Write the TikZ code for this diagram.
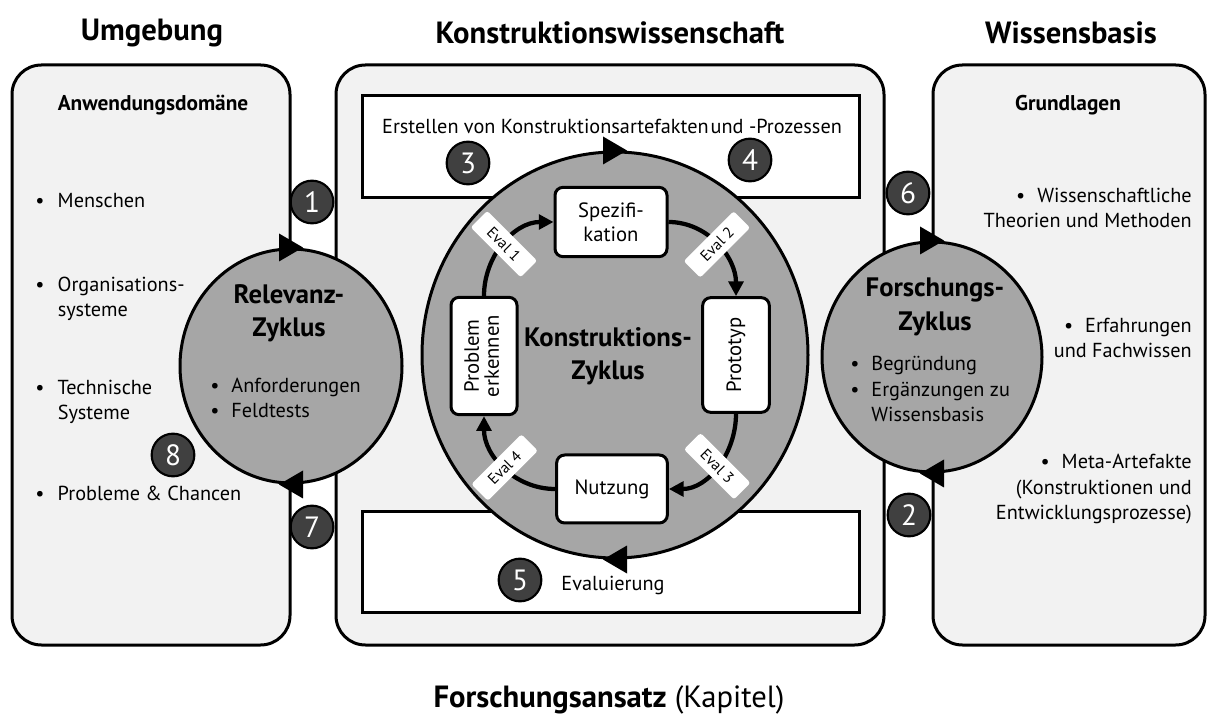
\documentclass[tikz,border=0pt]{standalone}
\usepackage{fontspec}
\usepackage{graphicx}
\setmainfont{PT Sans}
\usetikzlibrary{arrows.meta,shapes.geometric}

\definecolor{boxfill}{HTML}{F2F2F2}
\definecolor{cyclefill}{HTML}{A6A6A6}
\definecolor{numfill}{HTML}{404040}

% filled arrow tips sitting on the cycle outlines
\newcommand\cyctipR[1]{\fill (#1) ++(-12,14) -- ++(24,-14) -- ++(-24,-14) -- cycle;}
\newcommand\cyctipL[1]{\fill (#1) ++(12,14) -- ++(-24,-14) -- ++(24,-14) -- cycle;}

\begin{document}
\begin{tikzpicture}[x=0.75pt,y=0.75pt,
  panel/.style={draw, line width=2.25pt, fill=boxfill, rounded corners=22pt, inner sep=0pt},
  band/.style={draw, line width=2.25pt, fill=white, inner sep=0pt},
  cyclering/.style={ellipse, draw, line width=2.25pt, fill=cyclefill, inner sep=0pt},
  stagebox/.style={draw, line width=2.25pt, fill=white, rounded corners=6pt, inner sep=0pt, align=center, font=\fontsize{15.5}{18}\selectfont},
  numdot/.style={circle, draw, line width=1.6pt, fill=numfill, text=white, minimum size=32pt, inner sep=0pt, font=\fontsize{22}{22}\selectfont},
  evallab/.style={fill=white, rounded corners=2pt, inner sep=0pt, minimum width=53pt, minimum height=17.5pt, font=\fontsize{11.5}{12}\selectfont},
  flow/.style={line width=3.2pt, -{Triangle[length=11pt,width=11pt]}},
  heading/.style={font=\fontsize{23}{27}\selectfont\bfseries},
  subhead/.style={font=\fontsize{16}{19}\selectfont\bfseries},
  body/.style={font=\fontsize{15.2}{19}\selectfont, inner sep=0pt},
  cyctitle/.style={font=\fontsize{20}{25}\selectfont\bfseries, align=center, inner sep=0pt}
]
\useasboundingbox (0,0) rectangle (1208,-720);

% column titles
\node[heading] (tUmg) at (152,-33) {Umgebung};
\node[heading] (tKon) at (610,-33) {Konstruktionswissenschaft};
\node[heading] (tWis) at (1071,-33) {Wissensbasis};

% the three panels
\node[panel, minimum width=208.5pt, minimum height=435pt] (left) at (151,-355) {};
\node[panel, minimum width=411pt, minimum height=435pt] (mid) at (610,-355) {};
\node[panel, minimum width=204pt, minimum height=435pt] (right) at (1069,-355) {};

% bands inside the middle panel
\node[band, minimum width=372.75pt, minimum height=76.5pt] (topband) at (611,-147) {};
\node[band, minimum width=372.75pt, minimum height=75pt] (botband) at (611,-562) {};

% the three cycles
\node[cyclering, minimum width=166.5pt, minimum height=175.5pt] (rel) at (291,-366) {};
\node[cyclering, minimum width=165pt, minimum height=172.5pt] (fors) at (932,-357) {};
\node[cyclering, minimum width=289.5pt, minimum height=304.5pt] (kon) at (615,-355) {};

\cyctipR{rel.north}
\cyctipL{rel.south}
\cyctipR{fors.north}
\cyctipL{fors.south}
\cyctipR{kon.north}
\cyctipL{kon.south}

% band texts
\node[body] (erst) at (612,-126) {Erstellen von Konstruktionsartefakten\hspace{0.1em}und -Prozessen};
\node[body] (eval) at (613,-585) {Evaluierung};

% stages of the construction cycle
\node[stagebox, minimum width=84pt, minimum height=52pt] (spez) at (611,-222) {Spezifi-\\kation};
\node[stagebox, minimum width=50pt, minimum height=86pt] (proto) at (736,-355) {\rotatebox{90}{Prototyp}};
\node[stagebox, minimum width=83pt, minimum height=51pt] (nutz) at (612,-489) {Nutzung};
\node[stagebox, minimum width=49.5pt, minimum height=88pt] (prob) at (484,-356)
  {\rotatebox{90}{\begin{tabular}{@{}c@{}}Problem\\[-3pt]erkennen\end{tabular}}};

\draw[flow] (prob.north) to[out=90,in=180] node[evallab, rotate=-45] (e1) {Eval 1} (spez.west);
\draw[flow] (spez.east) to[out=0,in=90] node[evallab, rotate=45] (e2) {Eval 2} (proto.north);
\draw[flow] (proto.south) to[out=-90,in=0] node[evallab, rotate=-45] (e3) {Eval 3} (nutz.east);
\draw[flow] (nutz.west) to[out=180,in=-90] node[evallab, rotate=45] (e4) {Eval 4} (prob.south);

\node[cyctitle] (konT) at (608,-356) {Konstruktions-\\Zyklus};

% relevance cycle text
\node[cyctitle] (relT) at (289,-313) {Relevanz-\\Zyklus};
\node[body, anchor=west] (relB) at (210,-400)
  {\begin{tabular}{@{}l@{\hspace{9pt}}l@{}}\textbullet & Anforderungen\\ \textbullet & Feldtests\end{tabular}};

% rigor cycle text
\node[cyctitle] (forT) at (935,-307) {Forschungs-\\Zyklus};
\node[body, anchor=west] (forB) at (850,-391)
  {\begin{tabular}{@{}l@{\hspace{9pt}}l@{}}\textbullet & Begründung\\ \textbullet & Ergänzungen zu\\ & Wissensbasis\end{tabular}};

% environment panel
\node[subhead] (anw) at (153,-105) {Anwendungsdomäne};
\node[body, anchor=west] (l1) at (35,-202)
  {\begin{tabular}{@{}l@{\hspace{10pt}}l@{}}\textbullet & Menschen\end{tabular}};
\node[body, anchor=west] (l2) at (35,-299)
  {\begin{tabular}{@{}l@{\hspace{10pt}}l@{}}\textbullet & Organisations-\\ & systeme\end{tabular}};
\node[body, anchor=west] (l3) at (35,-402)
  {\begin{tabular}{@{}l@{\hspace{10pt}}l@{}}\textbullet & Technische\\ & Systeme\end{tabular}};
\node[body, anchor=west] (l4) at (35,-495)
  {\begin{tabular}{@{}l@{\hspace{10pt}}l@{}}\textbullet & Probleme \& Chancen\end{tabular}};

% knowledge base panel
\node[subhead] (grl) at (1068,-105) {Grundlagen};
\node[body, anchor=east] (r1) at (1192,-210)
  {\begin{tabular}{@{}r@{}}\textbullet\hspace{9pt}Wissenschaftliche\\ Theorien und Methoden\end{tabular}};
\node[body, anchor=east] (r2) at (1192,-340)
  {\begin{tabular}{@{}r@{}}\textbullet\hspace{9pt}Erfahrungen\\ und Fachwissen\end{tabular}};
\node[body, anchor=east] (r3) at (1192,-489)
  {\begin{tabular}{@{}r@{}}\textbullet\hspace{9pt}Meta-Artefakte\\ (Konstruktionen und\\ Entwicklungsprozesse)\end{tabular}};

% numbered markers
\node[numdot] (n1) at (312,-202) {1};
\node[numdot] (n2) at (909,-515) {2};
\node[numdot] (n3) at (468,-163) {3};
\node[numdot] (n4) at (750,-160) {4};
\node[numdot] (n5) at (520,-580) {5};
\node[numdot] (n6) at (908,-193) {6};
\node[numdot] (n7) at (312,-527) {7};
\node[numdot] (n8) at (173,-455) {8};

% caption
\node[font=\fontsize{23}{27}\selectfont] (cap) at (609,-700) {\textbf{Forschungsansatz} (Kapitel)};
\end{tikzpicture}
\end{document}
